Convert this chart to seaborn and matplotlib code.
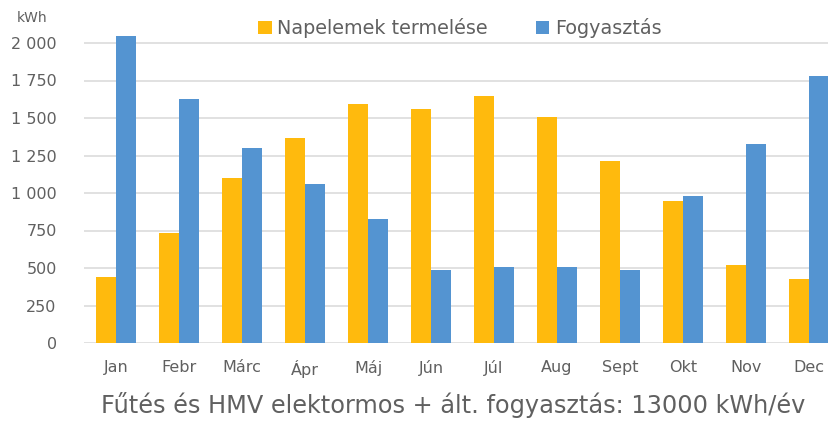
import matplotlib
matplotlib.use("Agg")
import matplotlib.pyplot as plt
import seaborn as sns
import pandas as pd
from matplotlib.patches import Patch

months = ["Jan", "Febr", "Márc", "Ápr", "Máj", "Jún", "Júl", "Aug", "Sept", "Okt", "Nov", "Dec"]
termeles = [440, 735, 1100, 1365, 1595, 1560, 1645, 1510, 1215, 945, 520, 425]
fogyasztas = [2050, 1630, 1300, 1060, 830, 490, 510, 510, 490, 980, 1325, 1780]
series_names = ["Napelemek termelése", "Fogyasztás"]
yticks = [0, 250, 500, 750, 1000, 1250, 1500, 1750, 2000]
ytick_labels = ["0", "250", "500", "750", "1 000", "1 250", "1 500", "1 750", "2 000"]
unit_label = "kWh"
caption = "Fűtés és HMV elektormos + ált. fogyasztás: 13000 kWh/év"

colors = ["#FFBA0D", "#5494D1"]

df = pd.DataFrame({
    "month": months * 2,
    "value": termeles + fogyasztas,
    "series": [series_names[0]] * len(months) + [series_names[1]] * len(months),
})

sns.set_theme(style="white")
plt.rcParams["font.family"] = ["DejaVu Sans"]

W, H = 829, 421
fig = plt.figure(figsize=(W / 100, H / 100), dpi=100)
ax_left = 84.5 / W
ax_bottom = 78 / H
ax_width = 756 / W
ax_height = 315 / H
ax = fig.add_axes([ax_left, ax_bottom, ax_width, ax_height])

sns.barplot(data=df, x="month", y="value", hue="series", order=months,
            hue_order=series_names, palette=colors, width=0.64, gap=0,
            saturation=1, linewidth=0, ax=ax, legend=False)

ax.set_xlim(-0.5, 11.5)
ax.set_ylim(0, 2100)
ax.set_yticks(yticks)
ax.set_yticklabels(ytick_labels)
ax.set_xlabel("")
ax.set_ylabel("")
ax.yaxis.grid(True, color="#DCDCDC", linewidth=1.2)
ax.set_axisbelow(True)
for s in ax.spines.values():
    s.set_visible(False)
ax.tick_params(axis="y", length=0, pad=20, labelsize=11.5, labelcolor="#606060")
ax.tick_params(axis="x", length=0, pad=12, labelsize=11.5, labelcolor="#606060")

fig.text(17 / W, 1 - 18 / H, unit_label, fontsize=10, color="#606060",
         ha="left", va="center")

handles = [Patch(facecolor=c, edgecolor="none") for c in colors]
fig.legend(handles, series_names, loc="center", bbox_to_anchor=(460 / W, 1 - 28 / H),
           ncol=2, frameon=False, fontsize=13.8, handlelength=0.7, handleheight=0.7,
           handletextpad=0.3, columnspacing=2.5, labelcolor="#606060")

fig.text(453 / W, 1 - 405 / H, caption, fontsize=17.3, color="#606060",
         ha="center", va="center")

fig.savefig("out.png", dpi=100, facecolor="white")
